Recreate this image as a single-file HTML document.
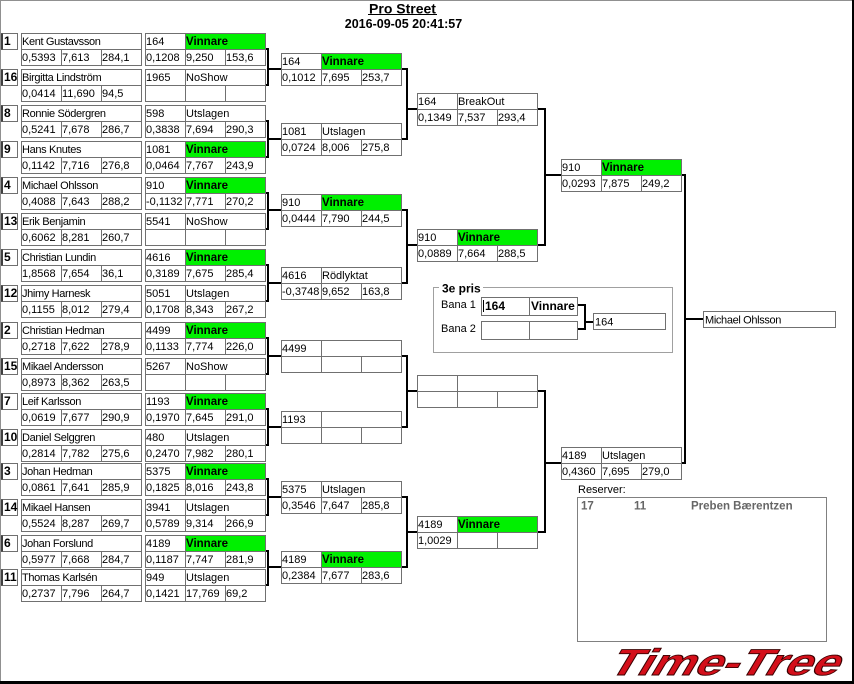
<!DOCTYPE html>
<html><head><meta charset="utf-8">
<style>
html,body{margin:0;padding:0;background:#fff;width:854px;height:684px;overflow:hidden}
svg{display:block}
text{font-family:"Liberation Sans",sans-serif;font-size:11px;fill:#000}
.nm{letter-spacing:-0.35px}
.s{font-weight:bold;font-size:12px}
.b{font-weight:bold;font-size:11.5px}
.bx{fill:none;stroke:#707070;stroke-width:1}
.g{fill:#00f000}
.cn{fill:none;stroke:#000;stroke-width:2;stroke-linejoin:miter}
</style></head><body>
<svg width="854" height="684" viewBox="0 0 854 684" xmlns="http://www.w3.org/2000/svg" shape-rendering="crispEdges">
<defs>
<g id="pb">
<rect class="bx" x="1.5" y="0.5" width="16" height="16"/>
<path d="M1.5 0.5V16.5M2.5 0.5V16.5" stroke="#404040" fill="none"/>
<rect class="bx" x="21.5" y="0.5" width="120" height="32"/>
<path class="bx" d="M21 16.5H142M61.5 16V33M101.5 16V33"/>
<rect class="bx" x="145.5" y="0.5" width="120" height="32"/>
<path class="bx" d="M145 16.5H266M185.5 0V33M225.5 16V33"/>
</g>
<g id="rb">
<rect class="bx" x="0.5" y="0.5" width="120" height="32"/>
<path class="bx" d="M0 16.5H121M40.5 0V33M80.5 16V33"/>
</g>
</defs>

<!-- frame -->
<rect x="0" y="0" width="854" height="1" fill="#909090"/>
<rect x="0" y="0" width="1" height="684" fill="#909090"/>
<rect x="852" y="0" width="2" height="684" fill="#000"/>
<rect x="0" y="681" width="854" height="3" fill="#000"/>

<!-- title -->
<text x="402.5" y="13.5" text-anchor="middle" style="font-weight:bold;font-size:14px">Pro Street</text>
<rect x="368" y="14" width="69" height="1" fill="#000"/>
<text x="403.5" y="28" text-anchor="middle" style="font-weight:bold;font-size:12.5px">2016-09-05 20:41:57</text>

<!-- connectors -->
<path class="cn" d="M265 49H268V85H265M268 69H281
M265 121H268V157H265M268 139H281
M265 193H268V229H265M268 210H281
M265 265H268V301H265M268 283H281
M265 338H268V374H265M268 356H281
M265 409H268V445H265M268 427H281
M265 479H268V515H265M268 497H281
M265 551H268V585H265M268 567H281
M401 69H407V139H401M407 109H417
M401 210H407V283H401M407 245H417
M401 356H407V427H401M407 391H417
M401 497H407V567H401M407 532H417
M537 109H545V245H537M545 175H561
M537 391H545V532H537M545 463H561
M681 175H685V463H681M685 319H703
M577 305H585V329H577M585 322H593"/>

<!-- Round 1 players -->
<g transform="translate(0,33)"><use href="#pb"/><rect class="g" x="186" y="1" width="79" height="15"/>
<text class="s" x="4" y="12">1</text><text class="nm" x="22" y="12">Kent Gustavsson</text>
<text x="22" y="28">0,5393</text><text x="62" y="28">7,613</text><text x="102" y="28">284,1</text>
<text x="146" y="12">164</text><text class="b" x="186" y="12">Vinnare</text>
<text x="146" y="28">0,1208</text><text x="186" y="28">9,250</text><text x="226" y="28">153,6</text></g>

<g transform="translate(0,69)"><use href="#pb"/>
<text class="s" x="4" y="12">16</text><text class="nm" x="22" y="12">Birgitta Lindström</text>
<text x="22" y="28">0,0414</text><text x="62" y="28">11,690</text><text x="102" y="28">94,5</text>
<text x="146" y="12">1965</text><text x="186" y="12">NoShow</text></g>

<g transform="translate(0,105)"><use href="#pb"/>
<text class="s" x="4" y="12">8</text><text class="nm" x="22" y="12">Ronnie Södergren</text>
<text x="22" y="28">0,5241</text><text x="62" y="28">7,678</text><text x="102" y="28">286,7</text>
<text x="146" y="12">598</text><text x="186" y="12">Utslagen</text>
<text x="146" y="28">0,3838</text><text x="186" y="28">7,694</text><text x="226" y="28">290,3</text></g>

<g transform="translate(0,141)"><use href="#pb"/><rect class="g" x="186" y="1" width="79" height="15"/>
<text class="s" x="4" y="12">9</text><text class="nm" x="22" y="12">Hans Knutes</text>
<text x="22" y="28">0,1142</text><text x="62" y="28">7,716</text><text x="102" y="28">276,8</text>
<text x="146" y="12">1081</text><text class="b" x="186" y="12">Vinnare</text>
<text x="146" y="28">0,0464</text><text x="186" y="28">7,767</text><text x="226" y="28">243,9</text></g>

<g transform="translate(0,177)"><use href="#pb"/><rect class="g" x="186" y="1" width="79" height="15"/>
<text class="s" x="4" y="12">4</text><text class="nm" x="22" y="12">Michael Ohlsson</text>
<text x="22" y="28">0,4088</text><text x="62" y="28">7,643</text><text x="102" y="28">288,2</text>
<text x="146" y="12">910</text><text class="b" x="186" y="12">Vinnare</text>
<text x="146" y="28">-0,1132</text><text x="186" y="28">7,771</text><text x="226" y="28">270,2</text></g>

<g transform="translate(0,213)"><use href="#pb"/>
<text class="s" x="4" y="12">13</text><text class="nm" x="22" y="12">Erik Benjamin</text>
<text x="22" y="28">0,6062</text><text x="62" y="28">8,281</text><text x="102" y="28">260,7</text>
<text x="146" y="12">5541</text><text x="186" y="12">NoShow</text></g>

<g transform="translate(0,249)"><use href="#pb"/><rect class="g" x="186" y="1" width="79" height="15"/>
<text class="s" x="4" y="12">5</text><text class="nm" x="22" y="12">Christian Lundin</text>
<text x="22" y="28">1,8568</text><text x="62" y="28">7,654</text><text x="102" y="28">36,1</text>
<text x="146" y="12">4616</text><text class="b" x="186" y="12">Vinnare</text>
<text x="146" y="28">0,3189</text><text x="186" y="28">7,675</text><text x="226" y="28">285,4</text></g>

<g transform="translate(0,285)"><use href="#pb"/>
<text class="s" x="4" y="12">12</text><text class="nm" x="22" y="12">Jhimy Harnesk</text>
<text x="22" y="28">0,1155</text><text x="62" y="28">8,012</text><text x="102" y="28">279,4</text>
<text x="146" y="12">5051</text><text x="186" y="12">Utslagen</text>
<text x="146" y="28">0,1708</text><text x="186" y="28">8,343</text><text x="226" y="28">267,2</text></g>

<g transform="translate(0,322)"><use href="#pb"/><rect class="g" x="186" y="1" width="79" height="15"/>
<text class="s" x="4" y="12">2</text><text class="nm" x="22" y="12">Christian Hedman</text>
<text x="22" y="28">0,2718</text><text x="62" y="28">7,622</text><text x="102" y="28">278,9</text>
<text x="146" y="12">4499</text><text class="b" x="186" y="12">Vinnare</text>
<text x="146" y="28">0,1133</text><text x="186" y="28">7,774</text><text x="226" y="28">226,0</text></g>

<g transform="translate(0,358)"><use href="#pb"/>
<text class="s" x="4" y="12">15</text><text class="nm" x="22" y="12">Mikael Andersson</text>
<text x="22" y="28">0,8973</text><text x="62" y="28">8,362</text><text x="102" y="28">263,5</text>
<text x="146" y="12">5267</text><text x="186" y="12">NoShow</text></g>

<g transform="translate(0,393)"><use href="#pb"/><rect class="g" x="186" y="1" width="79" height="15"/>
<text class="s" x="4" y="12">7</text><text class="nm" x="22" y="12">Leif Karlsson</text>
<text x="22" y="28">0,0619</text><text x="62" y="28">7,677</text><text x="102" y="28">290,9</text>
<text x="146" y="12">1193</text><text class="b" x="186" y="12">Vinnare</text>
<text x="146" y="28">0,1970</text><text x="186" y="28">7,645</text><text x="226" y="28">291,0</text></g>

<g transform="translate(0,429)"><use href="#pb"/>
<text class="s" x="4" y="12">10</text><text class="nm" x="22" y="12">Daniel Selggren</text>
<text x="22" y="28">0,2814</text><text x="62" y="28">7,782</text><text x="102" y="28">275,6</text>
<text x="146" y="12">480</text><text x="186" y="12">Utslagen</text>
<text x="146" y="28">0,2470</text><text x="186" y="28">7,982</text><text x="226" y="28">280,1</text></g>

<g transform="translate(0,463)"><use href="#pb"/><rect class="g" x="186" y="1" width="79" height="15"/>
<text class="s" x="4" y="12">3</text><text class="nm" x="22" y="12">Johan Hedman</text>
<text x="22" y="28">0,0861</text><text x="62" y="28">7,641</text><text x="102" y="28">285,9</text>
<text x="146" y="12">5375</text><text class="b" x="186" y="12">Vinnare</text>
<text x="146" y="28">0,1825</text><text x="186" y="28">8,016</text><text x="226" y="28">243,8</text></g>

<g transform="translate(0,499)"><use href="#pb"/>
<text class="s" x="4" y="12">14</text><text class="nm" x="22" y="12">Mikael Hansen</text>
<text x="22" y="28">0,5524</text><text x="62" y="28">8,287</text><text x="102" y="28">269,7</text>
<text x="146" y="12">3941</text><text x="186" y="12">Utslagen</text>
<text x="146" y="28">0,5789</text><text x="186" y="28">9,314</text><text x="226" y="28">266,9</text></g>

<g transform="translate(0,535)"><use href="#pb"/><rect class="g" x="186" y="1" width="79" height="15"/>
<text class="s" x="4" y="12">6</text><text class="nm" x="22" y="12">Johan Forslund</text>
<text x="22" y="28">0,5977</text><text x="62" y="28">7,668</text><text x="102" y="28">284,7</text>
<text x="146" y="12">4189</text><text class="b" x="186" y="12">Vinnare</text>
<text x="146" y="28">0,1187</text><text x="186" y="28">7,747</text><text x="226" y="28">281,9</text></g>

<g transform="translate(0,569)"><use href="#pb"/>
<text class="s" x="4" y="12">11</text><text class="nm" x="22" y="12">Thomas Karlsén</text>
<text x="22" y="28">0,2737</text><text x="62" y="28">7,796</text><text x="102" y="28">264,7</text>
<text x="146" y="12">949</text><text x="186" y="12">Utslagen</text>
<text x="146" y="28">0,1421</text><text x="186" y="28">17,769</text><text x="226" y="28">69,2</text></g>

<!-- Round 2 -->
<g transform="translate(281,53)"><use href="#rb"/><rect class="g" x="41" y="1" width="79" height="15"/>
<text x="1" y="12">164</text><text class="b" x="41" y="12">Vinnare</text>
<text x="1" y="28">0,1012</text><text x="41" y="28">7,695</text><text x="81" y="28">253,7</text></g>
<g transform="translate(281,123)"><use href="#rb"/>
<text x="1" y="12">1081</text><text x="41" y="12">Utslagen</text>
<text x="1" y="28">0,0724</text><text x="41" y="28">8,006</text><text x="81" y="28">275,8</text></g>
<g transform="translate(281,194)"><use href="#rb"/><rect class="g" x="41" y="1" width="79" height="15"/>
<text x="1" y="12">910</text><text class="b" x="41" y="12">Vinnare</text>
<text x="1" y="28">0,0444</text><text x="41" y="28">7,790</text><text x="81" y="28">244,5</text></g>
<g transform="translate(281,267)"><use href="#rb"/>
<text x="1" y="12">4616</text><text x="41" y="12">Rödlyktat</text>
<text x="1" y="28">-0,3748</text><text x="41" y="28">9,652</text><text x="81" y="28">163,8</text></g>
<g transform="translate(281,340)"><use href="#rb"/>
<text x="1" y="12">4499</text></g>
<g transform="translate(281,411)"><use href="#rb"/>
<text x="1" y="12">1193</text></g>
<g transform="translate(281,481)"><use href="#rb"/>
<text x="1" y="12">5375</text><text x="41" y="12">Utslagen</text>
<text x="1" y="28">0,3546</text><text x="41" y="28">7,647</text><text x="81" y="28">285,8</text></g>
<g transform="translate(281,551)"><use href="#rb"/><rect class="g" x="41" y="1" width="79" height="15"/>
<text x="1" y="12">4189</text><text class="b" x="41" y="12">Vinnare</text>
<text x="1" y="28">0,2384</text><text x="41" y="28">7,677</text><text x="81" y="28">283,6</text></g>

<!-- Round 3 -->
<g transform="translate(417,93)"><use href="#rb"/>
<text x="1" y="12">164</text><text x="41" y="12">BreakOut</text>
<text x="1" y="28">0,1349</text><text x="41" y="28">7,537</text><text x="81" y="28">293,4</text></g>
<g transform="translate(417,229)"><use href="#rb"/><rect class="g" x="41" y="1" width="79" height="15"/>
<text x="1" y="12">910</text><text class="b" x="41" y="12">Vinnare</text>
<text x="1" y="28">0,0889</text><text x="41" y="28">7,664</text><text x="81" y="28">288,5</text></g>
<g transform="translate(417,375)"><use href="#rb"/></g>
<g transform="translate(417,516)"><use href="#rb"/><rect class="g" x="41" y="1" width="79" height="15"/>
<text x="1" y="12">4189</text><text class="b" x="41" y="12">Vinnare</text>
<text x="1" y="28">1,0029</text></g>

<!-- Round 4 -->
<g transform="translate(561,159)"><use href="#rb"/><rect class="g" x="41" y="1" width="79" height="15"/>
<text x="1" y="12">910</text><text class="b" x="41" y="12">Vinnare</text>
<text x="1" y="28">0,0293</text><text x="41" y="28">7,875</text><text x="81" y="28">249,2</text></g>
<g transform="translate(561,447)"><use href="#rb"/>
<text x="1" y="12">4189</text><text x="41" y="12">Utslagen</text>
<text x="1" y="28">0,4360</text><text x="41" y="28">7,695</text><text x="81" y="28">279,0</text></g>

<!-- Final -->
<rect class="bx" x="703.5" y="311.5" width="132" height="16"/>
<text class="nm" x="705" y="323.5">Michael Ohlsson</text>

<!-- 3e pris -->
<rect x="433.5" y="287.5" width="239" height="65" fill="none" stroke="#a0a0a0"/>
<rect x="439" y="281" width="44" height="13" fill="#fff"/>
<text x="442" y="292.5" style="font-weight:bold;font-size:12px">3e pris</text>
<text x="441" y="308">Bana 1</text>
<text x="441" y="332">Bana 2</text>
<rect class="bx" x="481.5" y="297.5" width="96" height="18"/>
<path class="bx" d="M529.5 297V316"/>
<path d="M483.5 300V312" stroke="#000" fill="none"/>
<text x="485" y="310" style="font-weight:bold;font-size:12px">164</text>
<text x="531" y="310" style="font-weight:bold;font-size:12px">Vinnare</text>
<rect class="bx" x="481.5" y="321.5" width="96" height="18"/>
<path class="bx" d="M529.5 321V340"/>
<rect class="bx" x="593.5" y="313.5" width="72" height="16"/>
<text x="595" y="325.5">164</text>

<!-- Reserver -->
<text x="578" y="493">Reserver:</text>
<rect x="577.5" y="497.5" width="249" height="144" fill="none" stroke="#808080"/>
<text x="581" y="509.5" style="font-weight:bold;font-size:11.5px;fill:#666">17</text>
<text x="634" y="509.5" style="font-weight:bold;font-size:11.5px;fill:#666">11</text>
<text x="691" y="509.5" style="font-weight:bold;font-size:11.5px;fill:#666">Preben Bærentzen</text>

<!-- Logo -->
<g shape-rendering="auto">
<text x="0" y="0" transform="translate(606,675) skewX(-31) scale(1.32,1)" style="font-family:'Liberation Sans',sans-serif;font-weight:bold;font-size:37px;fill:#d40f1a;stroke:#3a0000;stroke-width:0.9">Time-Tree</text>
</g>
</svg>
</body></html>
